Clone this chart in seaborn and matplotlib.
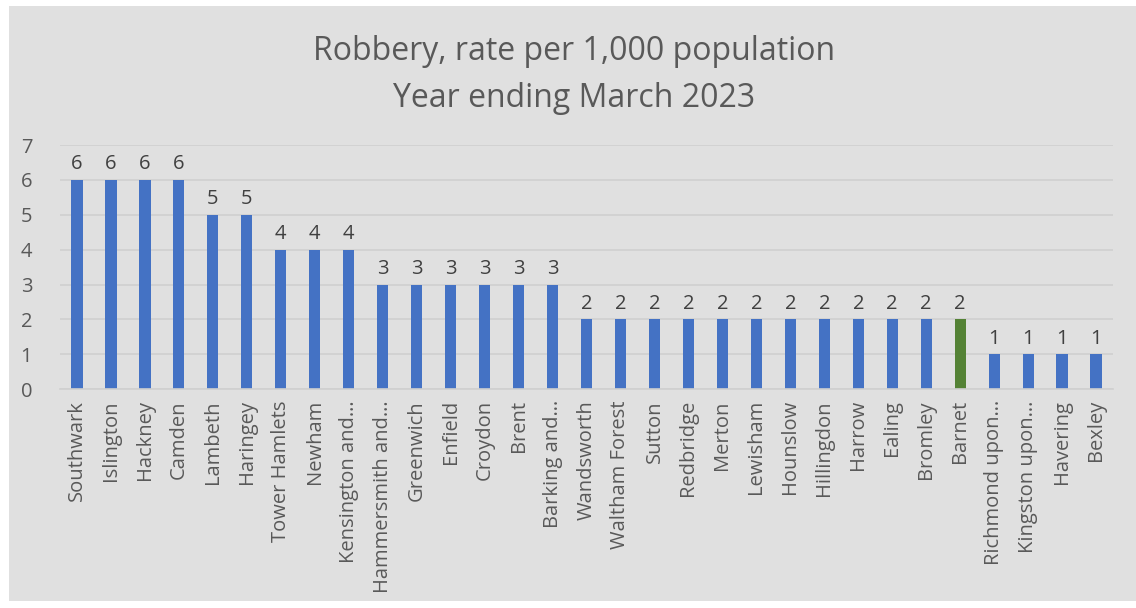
import matplotlib
matplotlib.use("Agg")
import matplotlib.pyplot as plt
import seaborn as sns
import pandas as pd

boroughs = ["Southwark", "Islington", "Hackney", "Camden", "Lambeth", "Haringey",
            "Tower Hamlets", "Newham", "Kensington and…", "Hammersmith and…",
            "Greenwich", "Enfield", "Croydon", "Brent", "Barking and…",
            "Wandsworth", "Waltham Forest", "Sutton", "Redbridge", "Merton",
            "Lewisham", "Hounslow", "Hillingdon", "Harrow", "Ealing", "Bromley",
            "Barnet", "Richmond upon…", "Kingston upon…", "Havering", "Bexley"]
rates = [6, 6, 6, 6, 5, 5, 4, 4, 4, 3, 3, 3, 3, 3, 3,
         2, 2, 2, 2, 2, 2, 2, 2, 2, 2, 2, 2, 1, 1, 1, 1]
highlight = "Barnet"
title = "Robbery, rate per 1,000 population\nYear ending March 2023"

BLUE = "#4472C4"
GREEN = "#548235"
BG = "#E0E0E0"
TXT = "#595959"

sns.set_theme(style="white")
plt.rcParams["font.family"] = ["Open Sans", "DejaVu Sans"]

df = pd.DataFrame({"borough": boroughs, "rate": rates})
palette = {b: (GREEN if b == highlight else BLUE) for b in boroughs}

fig = plt.figure(figsize=(11.36, 6.08), dpi=100, facecolor="white")
bgax = fig.add_axes([0.008, 0.012, 0.992, 0.978])
bgax.set_facecolor(BG)
bgax.set_xticks([]); bgax.set_yticks([])
for s in bgax.spines.values():
    s.set_visible(False)

ax = fig.add_axes([0.0528, 0.360, 0.927, 0.4015])
ax.set_facecolor("none")
sns.barplot(data=df, x="borough", y="rate", hue="borough", palette=palette,
            width=0.33, legend=False, ax=ax, saturation=1, linewidth=0)
ax.set_xlim(-0.5, len(boroughs) - 0.5)
ax.set_ylim(0, 7)
ax.set_yticks(range(0, 8))
ax.yaxis.grid(True, color="#D0D0D0", linewidth=1.2)
ax.set_axisbelow(True)
for s in ["top", "right", "left"]:
    ax.spines[s].set_visible(False)
ax.spines["bottom"].set_color("#D0D0D0")
ax.spines["bottom"].set_linewidth(1.2)
ax.set_xlabel("")
ax.set_ylabel("")
ax.tick_params(axis="x", labelrotation=90, labelsize=14.5, colors=TXT, length=0, pad=8)
ax.tick_params(axis="y", labelsize=14.5, colors=TXT, length=0, pad=20)
for c in ax.containers:
    ax.bar_label(c, fmt="%d", fontsize=14.5, color="#404040", padding=4)

fig.text(0.505, 0.877, title, ha="center", va="center", fontsize=23,
         color=TXT, linespacing=1.55)

fig.savefig("out.png", dpi=100, facecolor=fig.get_facecolor())
